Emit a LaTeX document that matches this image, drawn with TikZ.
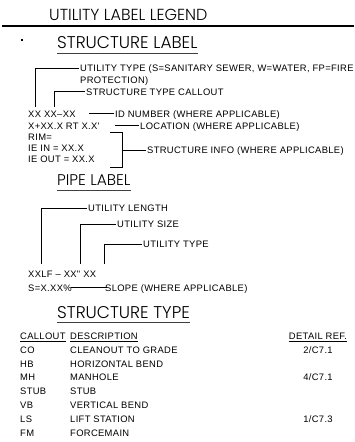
\documentclass[tikz,border=0pt]{standalone}
\usepackage{fontspec}
\newfontfamily\cadfont{Liberation Sans}[LetterSpace=3.5]
\newfontfamily\gothic{Poppins}[UprightFont=* Light]

\begin{document}
\begin{tikzpicture}[x=1pt, y=-1pt, every node/.style={inner sep=0pt, anchor=base west},
		txt/.style={font=\cadfont\fontsize{9.4}{11}\selectfont, text height=6.7pt, text depth=0pt},
		lbl/.style={txt, inner xsep=1.5pt},
		head/.style={font=\gothic\fontsize{17}{20}\selectfont},
		lead/.style={line width=0.6pt},
		uline/.style={line width=0.9pt, black!75}]
	\useasboundingbox (0,0) rectangle (354,442);
	% title
	\node[head, font=\gothic\fontsize{16}{19}\selectfont] (ttl) at (49,20) {UTILITY LABEL LEGEND};
	\draw[line width=2pt] (2,26) -- (354,26);
	\fill (21,39.4) rectangle (23,40.6);
	% structure label
	\node[head] (sl) at (57,48) {STRUCTURE LABEL};
	\draw[uline] ([yshift=-5pt]sl.base west) -- ([yshift=-5pt]sl.base east);
	\node[lbl] (utype) at (78.5,71.5) {UTILITY TYPE (S=SANITARY SEWER, W=WATER, FP=FIRE};
	\node[lbl] (prot) at (78.5,83) {PROTECTION)};
	\node[lbl] (callout) at (84.5,95) {STRUCTURE TYPE CALLOUT};
	\node[txt] (idl) at (28,117) {XX XX–XX};
	\node[lbl] (idnum) at (113.5,117) {ID NUMBER (WHERE APPLICABLE)};
	\node[txt] (locl) at (28,129) {X+XX.X RT X.X'};
	\node[lbl] (loc) at (138.5,129) {LOCATION (WHERE APPLICABLE)};
	\node[txt] (riml) at (28,140) {RIM=};
	\node[txt] (ieinl) at (28,151) {IE IN = XX.X};
	\node[txt] (ieoutl) at (28,162) {IE OUT = XX.X};
	\node[lbl] (info) at (145.5,153.3) {STRUCTURE INFO (WHERE APPLICABLE)};
	\coordinate (ut) at (35,107);
	\coordinate (sc) at (54,107);
	\coordinate (ida) at (89,0);
	\coordinate (loca) at (115,0);
	\coordinate (bx) at (122,0);
	\draw[lead] (utype.west) -| (ut);
	\draw[lead] (callout.west) -| (sc);
	\draw[lead] (idnum.west) -- (ida |- idnum.west);
	\draw[lead] (loc.west) -- (loca |- loc.west);
	\draw[lead] (110,132) -| (122,167) -- (110,167);
	\draw[lead] (info.west) -- (bx |- info.west);
	% pipe label
	\node[head, font=\gothic\fontsize{15.5}{19}\selectfont] (pl) at (57,185) {PIPE LABEL};
	\draw[uline] ([yshift=-5.5pt]pl.base west) -- ([yshift=-5.5pt]pl.base east);
	\node[lbl] (len) at (86.5,211.3) {UTILITY LENGTH};
	\node[lbl] (size) at (115.5,227.3) {UTILITY SIZE};
	\node[lbl] (ptype) at (141.5,247.3) {UTILITY TYPE};
	\node[txt] (pipel) at (28,277) {XXLF – XX" XX};
	\node[txt] (slopel) at (28,291) {S=X.XX\%};
	\node[txt] (slope) at (105,291) {SLOPE (WHERE APPLICABLE)};
	\coordinate (pa) at (41,264);
	\coordinate (pb) at (80,264);
	\coordinate (pc) at (104,264);
	\coordinate (sa) at (71,0);
	\draw[lead] (len.west) -| (pa);
	\draw[lead] (size.west) -| (pb);
	\draw[lead] (ptype.west) -| (pc);
	\draw[lead] (sa |- slope.west) -- ([xshift=1.5pt]slope.west);
	% structure type
	\node[head] (st) at (57,318) {STRUCTURE TYPE};
	\draw[uline] ([yshift=-4.5pt]st.base west) -- ([yshift=-4.5pt]st.base east);
	\node[txt] (hc) at (20,339.5) {CALLOUT};
	\node[txt] (hd) at (70,339.5) {DESCRIPTION};
	\node[txt, anchor=base] (hr) at (318,339.5) {DETAIL REF.};
	\foreach \n in {hc,hd,hr}
		\draw[lead] ([yshift=-1.3pt]\n.base west) -- ([yshift=-1.3pt]\n.base east);
	\node[txt] (c1) at (20,353.3) {CO};   \node[txt] (d1) at (70,353.3) {CLEANOUT TO GRADE};
	\node[txt, anchor=base] (r1) at (318,353.3) {2/C7.1};
	\node[txt] (c2) at (20,367.1) {HB};   \node[txt] (d2) at (70,367.1) {HORIZONTAL BEND};
	\node[txt] (c3) at (20,380.9) {MH};   \node[txt] (d3) at (70,380.9) {MANHOLE};
	\node[txt, anchor=base] (r3) at (318,380.9) {4/C7.1};
	\node[txt] (c4) at (20,394.7) {STUB}; \node[txt] (d4) at (70,394.7) {STUB};
	\node[txt] (c5) at (20,408.5) {VB};   \node[txt] (d5) at (70,408.5) {VERTICAL BEND};
	\node[txt] (c6) at (20,422.3) {LS};   \node[txt] (d6) at (70,422.3) {LIFT STATION};
	\node[txt, anchor=base] (r6) at (318,422.3) {1/C7.3};
	\node[txt] (c7) at (20,436) {FM};     \node[txt] (d7) at (70,436) {FORCEMAIN};
\end{tikzpicture}
\end{document}
